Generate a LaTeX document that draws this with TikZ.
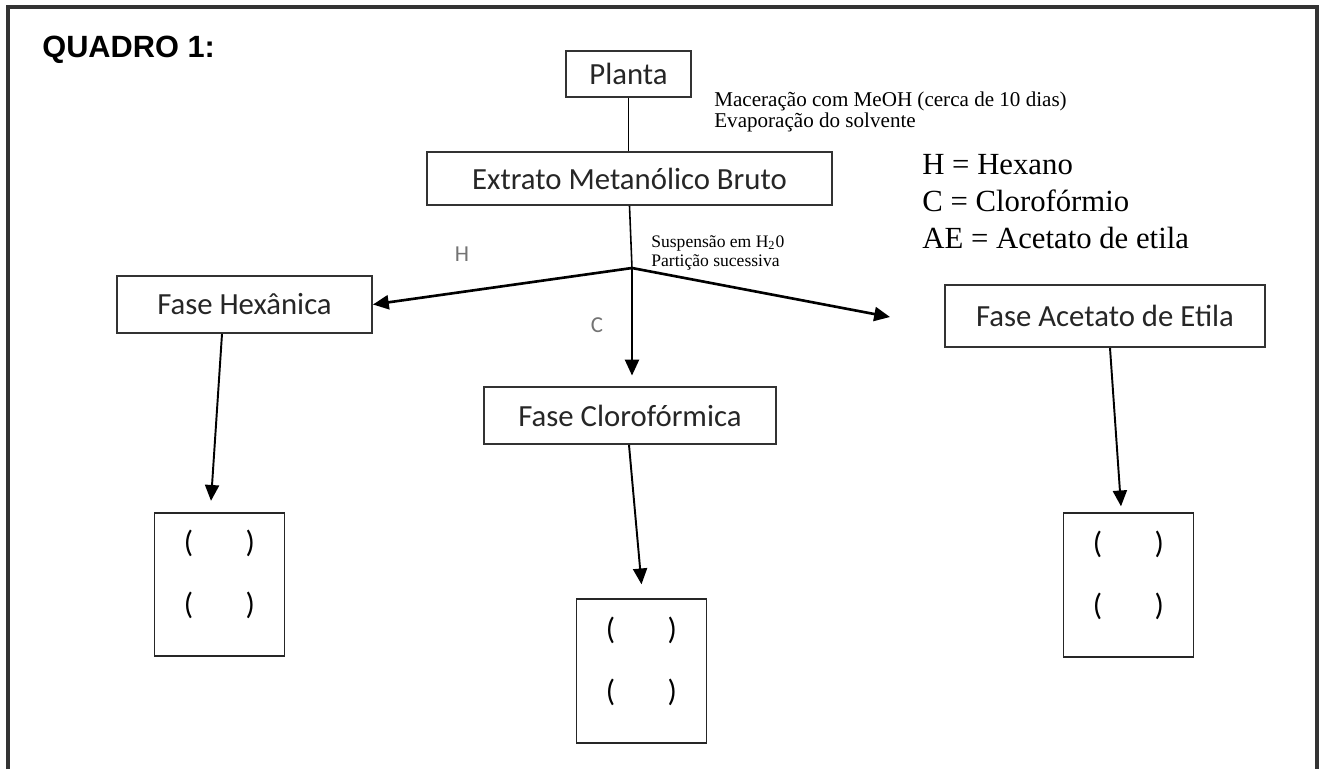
\documentclass[tikz,border=0pt]{standalone}
\usepackage{fontspec}
\setmainfont{Liberation Serif}
\newfontfamily\calibri{Carlito}
\newfontfamily\arialf{Liberation Sans}
\usetikzlibrary{arrows.meta,positioning,calc}

\begin{document}
\begin{tikzpicture}[
  x=0.02cm,y=-0.02cm,
  box/.style={draw,line width=1.1pt,inner sep=0pt,draw=black!80,
              font=\calibri\fontsize{17.5}{20}\selectfont,text=black!85},
  res/.style={draw,line width=1.1pt,draw=black!85,minimum width=2.6cm,minimum height=2.87cm,inner sep=0pt},
  par/.style={font=\calibri\fontsize{17.5}{20}\selectfont,inner sep=0pt},
  note/.style={align=left,anchor=north west,inner sep=0pt},
  lbl/.style={font=\calibri\fontsize{13}{15}\selectfont,text=black!55},
  arr/.style={-{Triangle[length=9pt,width=8pt]},line width=1.1pt},
  warr/.style={-{Triangle[length=9pt,width=8pt]},line width=1.5pt},
  ln/.style={line width=0.9pt}
]
\useasboundingbox (0,0) rectangle (1322,769);
% --- frame and title ---
\draw[line width=1.9pt,black!80] (8,769) -- (8,7) -- (1317,7) -- (1317,769);
\node[font=\arialf\bfseries\fontsize{17.5}{20}\selectfont,anchor=west,inner sep=0pt](titulo) at (42,50){QUADRO 1:};
% --- row 1: plant and extract ---
\node[box,minimum width=2.5cm,minimum height=0.92cm](planta) at (628.5,74){Planta};
\node[box,minimum width=8.1cm,minimum height=1.06cm](extrato) at (629.5,178.5){Extrato Metanólico Bruto};
\node[note,font=\fontsize{12}{11.5}\selectfont](macer) at (714,92){Maceração com MeOH (cerca de 10 dias)\\Evaporação do solvente};
\node[note,font=\fontsize{17.5}{21}\selectfont](legenda) at (922,154){H = Hexano\\C = Clorofórmio\\AE = Acetato de etila};
\draw[ln](planta.south) -- (planta.south |- extrato.north);
% --- row 2: phases ---
\coordinate (split) at (632,268);
\coordinate (aetip) at (890,317);
\node[note,font=\fontsize{10}{11}\selectfont](susp) at (651,235){Suspensão em H\textsubscript{2}0\\Partição sucessiva};
\node[lbl](h) at (462,254){H};
\node[lbl](c) at (597,325){C};
\node[box,minimum width=5.1cm,minimum height=1.14cm](hex) at (244.5,304.5){Fase Hexânica};
\node[box,minimum width=5.85cm,minimum height=1.14cm](clor) at (630,415.5){Fase Clorofórmica};
\node[box,minimum width=6.4cm,minimum height=1.24cm](ae) at (1105,316){Fase Acetato de Etila};
\draw[ln](extrato.south) -- (split);
\draw[warr](split) -- (hex.east);
\draw[warr](split) -- (aetip);
\draw[arr,shorten >=6pt](split) -- (split |- clor.north);
% --- row 3: results ---
\node[res](r1) at (219.5,584.5){};
\node[res](r2) at (641.5,671){};
\node[res](r3) at (1128.5,585){};
\draw[arr]([xshift=-0.45cm]hex.south) -- ([xshift=-0.17cm,yshift=0.22cm]r1.north);
\draw[arr]([xshift=-0.02cm]clor.south) -- ([yshift=0.28cm]r2.north);
\draw[arr]([xshift=0.1cm]ae.south) -- ([xshift=-0.15cm,yshift=0.12cm]r3.north);
\foreach \b in {r1,r2,r3}{
  \node[par] at ($(\b.north)+(0,32)$){(\hspace{1.05cm})};
  \node[par] at ($(\b.north)+(0,94)$){(\hspace{1.05cm})};
}
\end{tikzpicture}
\end{document}
